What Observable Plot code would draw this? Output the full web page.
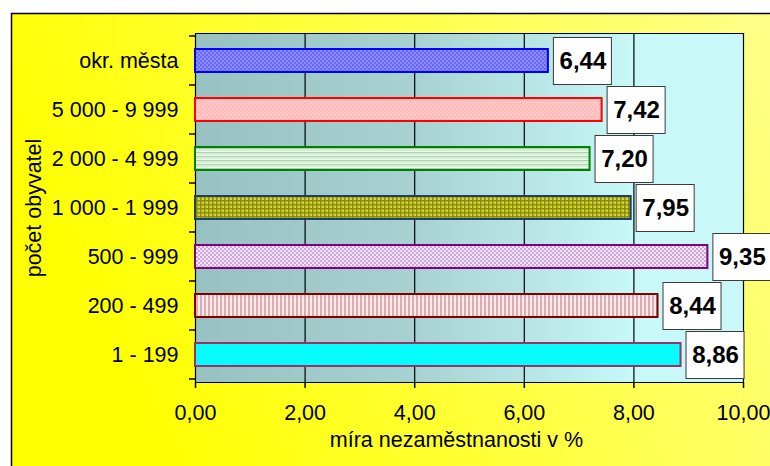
<!DOCTYPE html>
<html><head><meta charset="utf-8">
<script src="https://cdn.jsdelivr.net/npm/d3@7"></script>
<script src="https://cdn.jsdelivr.net/npm/@observablehq/plot@0.6"></script>
<style>
body{margin:0;background:#fff;}
#chart svg{display:block;}
</style></head><body><div id="chart"></div>
<script>
const categories = ["okr. města", "5 000 - 9 999", "2 000 - 4 999", "1 000 - 1 999", "500 - 999", "200 - 499", "1 - 199"];
const values = [6.44, 7.42, 7.20, 7.95, 9.35, 8.44, 8.86];
const valueLabels = ["6,44", "7,42", "7,20", "7,95", "9,35", "8,44", "8,86"];
const xTicks = [0, 2, 4, 6, 8, 10];
const xTickLabels = ["0,00", "2,00", "4,00", "6,00", "8,00", "10,00"];
const xTitle = "míra nezaměstnanosti v %";
const yTitle = "počet obyvatel";
const barStrokes = ["#0000ff", "#ff0000", "#008000", "#1f3f66", "#800080", "#800000", "#993366"];
const barPatterns = ["p-blue", "p-pink", "p-green", "p-olive", "p-purple", "p-red", "p-cyan"];

const data = categories.map((c, i) => ({cat: c, value: values[i], label: valueLabels[i], fill: `url(#${barPatterns[i]})`, stroke: barStrokes[i]}));

const font = "'Liberation Sans', Arial, sans-serif";
const fs = 21.5;

function bandStep(scales) {
  const y = scales.y;
  const step = typeof y.step === "function" ? y.step() : scales.scales.y.step;
  const bw = typeof y.bandwidth === "function" ? y.bandwidth() : scales.scales.y.bandwidth;
  return {step, bw};
}

function yBoundaryTicks(index, scales, vals, dim) {
  const {step, bw} = bandStep(scales);
  const x0 = scales.x(0);
  const ys = categories.map(c => scales.y(c) - (step - bw) / 2);
  ys.push(ys[ys.length - 1] + step);
  const g = d3.create("svg:g").attr("stroke", "#000").attr("stroke-width", 1.5);
  g.selectAll("line").data(ys).join("line")
    .attr("x1", x0 - 6).attr("x2", x0).attr("y1", d => d).attr("y2", d => d);
  return g.node();
}

function valueBoxes(index, scales, vals, dim) {
  const {bw} = bandStep(scales);
  const g = d3.create("svg:g");
  const w = 58, h = 47;
  data.forEach(d => {
    const x = scales.x(d.value) + 5;
    const yc = scales.y(d.cat) + bw / 2;
    g.append("rect").attr("x", x + 0.5).attr("y", yc - h / 2 + 0.5).attr("width", w).attr("height", h)
      .attr("fill", "#fff").attr("stroke", "#3a3a3a").attr("stroke-width", 1);
    g.append("text").attr("x", x + w / 2 + 1).attr("y", yc).attr("dy", "0.36em")
      .attr("text-anchor", "middle").attr("font-weight", "bold").attr("font-size", 24)
      .attr("font-family", font).attr("fill", "#000").text(d.label);
  });
  return g.node();
}

const chart = Plot.plot({
  width: 770,
  height: 466,
  marginLeft: 195,
  marginRight: 27,
  marginTop: 33,
  marginBottom: 84,
  style: {fontFamily: font, fontSize: fs + "px", background: "white", overflow: "visible", color: "#000"},
  x: {domain: [0, 10]},
  y: {domain: categories, paddingInner: 0.54, paddingOuter: 0.27, align: 0.5},
  color: {type: "identity"},
  marks: [
    Plot.frame({fill: "url(#plotbg)", stroke: "#000"}),
    Plot.gridX({ticks: xTicks, stroke: "#000", strokeOpacity: 1, strokeWidth: 1.2}),
    Plot.barX(data, {x: "value", y: "cat", fill: "fill", stroke: "stroke", strokeWidth: 2}),
    Plot.axisX({ticks: xTicks, tickFormat: d => xTickLabels[xTicks.indexOf(d)], tickSize: 6, tickPadding: 16, fontSize: fs, label: null, stroke: "#000", strokeWidth: 1.5}),
    Plot.axisY({tickSize: 0, tickPadding: 17, fontSize: fs, label: null}),
    yBoundaryTicks,
    valueBoxes,
    Plot.text([yTitle], {text: d => d, frameAnchor: "left", textAnchor: "middle", lineAnchor: "middle", dx: -161, rotate: -90, fontSize: fs}),
    Plot.text([xTitle], {text: d => d, frameAnchor: "bottom", textAnchor: "middle", lineAnchor: "middle", dx: -13, dy: 58, fontSize: fs})
  ]
});

const svg = d3.select(chart);
const defs = svg.insert("defs", ":first-child");
const lg = defs.append("linearGradient").attr("id", "plotbg").attr("x1", "0").attr("x2", "1").attr("y1", "0").attr("y2", "0");
lg.append("stop").attr("offset", "0%").attr("stop-color", "#98c2c2");
lg.append("stop").attr("offset", "40%").attr("stop-color", "#a8d2d2");
lg.append("stop").attr("offset", "62%").attr("stop-color", "#b8e6e6");
lg.append("stop").attr("offset", "80%").attr("stop-color", "#c8f8f8");
lg.append("stop").attr("offset", "100%").attr("stop-color", "#c8f8f8");
const yg = defs.append("linearGradient").attr("id", "outerbg").attr("x1", "0").attr("x2", "1").attr("y1", "0.3").attr("y2", "0");
yg.append("stop").attr("offset", "0%").attr("stop-color", "#ffff00");
yg.append("stop").attr("offset", "45%").attr("stop-color", "#ffff40");
yg.append("stop").attr("offset", "100%").attr("stop-color", "#ffff90");

function pat(id, w, h, draw) {
  const p = defs.append("pattern").attr("id", id).attr("patternUnits", "userSpaceOnUse").attr("width", w).attr("height", h);
  draw(p);
}
pat("p-blue", 4, 4, p => {
  p.append("rect").attr("width", 4).attr("height", 4).attr("fill", "#8c8cff");
  p.append("rect").attr("width", 2).attr("height", 2).attr("fill", "#6a6af8");
  p.append("rect").attr("x", 2).attr("y", 2).attr("width", 2).attr("height", 2).attr("fill", "#6a6af8");
});
pat("p-pink", 4, 4, p => {
  p.append("rect").attr("width", 4).attr("height", 4).attr("fill", "#ffc6c6");
  p.append("path").attr("d", "M0,4L4,0M-1,1L1,-1M3,5L5,3").attr("stroke", "#ffb0b0").attr("stroke-width", 0.8);
});
pat("p-green", 4, 4, p => {
  p.append("rect").attr("width", 4).attr("height", 4).attr("fill", "#eefaee");
  p.append("rect").attr("width", 4).attr("height", 1.3).attr("fill", "#a8d4a8");
  p.append("rect").attr("y", 2).attr("width", 4).attr("height", 1).attr("fill", "#d4ecd4");
});
pat("p-olive", 4, 4, p => {
  p.append("rect").attr("width", 4).attr("height", 4).attr("fill", "#d4d430");
  p.append("rect").attr("width", 1.5).attr("height", 4).attr("fill", "#8c8c10");
  p.append("rect").attr("width", 4).attr("height", 1.5).attr("fill", "#8c8c10");
});
pat("p-purple", 4, 4, p => {
  p.append("rect").attr("width", 4).attr("height", 4).attr("fill", "#f2e4f6");
  p.append("rect").attr("width", 2).attr("height", 2).attr("fill", "#cca8d8");
  p.append("rect").attr("x", 2).attr("y", 2).attr("width", 2).attr("height", 2).attr("fill", "#cca8d8");
});
pat("p-red", 4, 4, p => {
  p.append("rect").attr("width", 4).attr("height", 4).attr("fill", "#fbecec");
  p.append("rect").attr("width", 2).attr("height", 4).attr("fill", "#deaab2");
});
pat("p-cyan", 4, 4, p => {
  p.append("rect").attr("width", 4).attr("height", 4).attr("fill", "#00ffff");
  p.append("rect").attr("width", 1).attr("height", 1).attr("fill", "#30e8f4");
  p.append("rect").attr("x", 2).attr("y", 2).attr("width", 1).attr("height", 1).attr("fill", "#30e8f4");
});

svg.insert("rect", "defs + *")
  .attr("x", 11.5).attr("y", 13.5).attr("width", 800).attr("height", 500)
  .attr("fill", "url(#outerbg)").attr("stroke", "#000").attr("stroke-width", 1.5);

document.getElementById("chart").appendChild(chart);
</script>
</body></html>
